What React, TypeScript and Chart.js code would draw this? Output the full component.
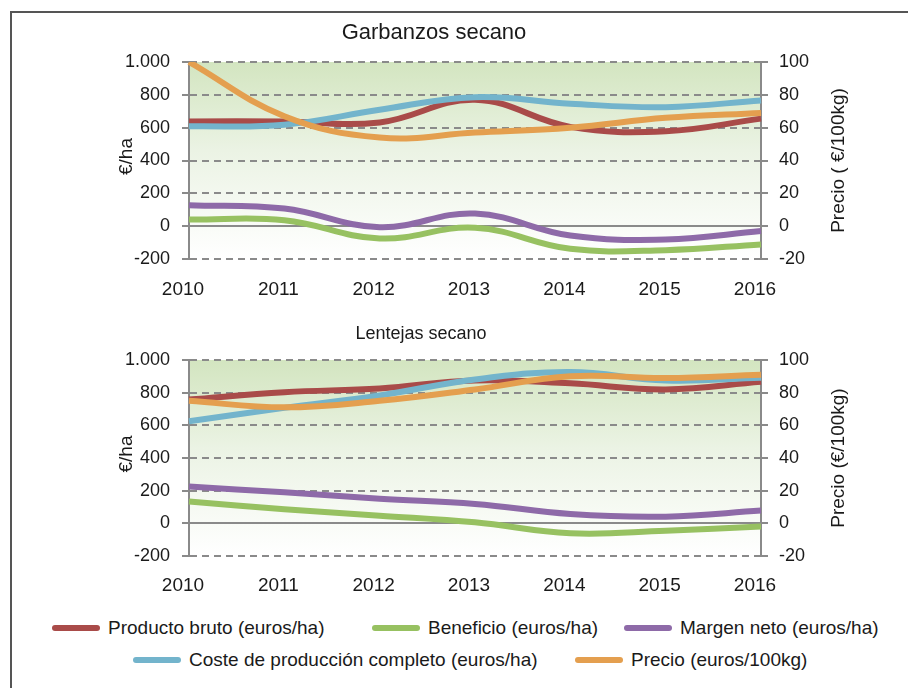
import React, { useEffect, useRef } from "react";
import { Chart, registerables } from "chart.js";

Chart.register(...registerables);

const years = ["2010", "2011", "2012", "2013", "2014", "2015", "2016"];

const garbProducto = [638, 638, 632, 770, 605, 578, 655];
const garbBeneficio = [40, 36, -75, -10, -138, -146, -111];
const garbMargen = [128, 107, -6, 77, -57, -81, -30];
const garbCoste = [608, 618, 709, 786, 746, 725, 766];
const garbPrecio = [100, 67, 54, 57, 60, 66, 69];

const lentProducto = [758, 803, 826, 875, 857, 820, 867];
const lentBeneficio = [133, 86, 47, 6, -61, -45, -20];
const lentMargen = [225, 190, 150, 119, 57, 41, 78];
const lentCoste = [625, 707, 783, 881, 926, 875, 891];
const lentPrecio = [75, 71, 75, 82, 90, 89, 91];

const seriesNames = [
  "Producto bruto (euros/ha)",
  "Beneficio (euros/ha)",
  "Margen neto (euros/ha)",
  "Coste de producción completo (euros/ha)",
  "Precio (euros/100kg)",
];
const seriesColors = ["#a94b49", "#97c161", "#8e6aa8", "#73b4cc", "#e49f4f"];

const FONT = '"Liberation Sans", Arial, sans-serif';
const GRID = "#8a8a8a";
const TEXT = "#1a1a1a";

type Cfg = {
  title: string;
  titleSize: number;
  titleDx: number;
  titleDy: number;
  rightTitle: string;
  producto: number[];
  beneficio: number[];
  margen: number[];
  coste: number[];
  precio: number[];
  padTop: number;
  xHeight: number;
  xPad: number;
};

function makeChart(canvas: HTMLCanvasElement, cfg: Cfg) {
  const decor = {
    id: "decor",
    beforeDraw(chart: any) {
      const { ctx, chartArea: a } = chart;
      const g = ctx.createLinearGradient(0, a.top, 0, a.bottom);
      g.addColorStop(0, "#d3e5c0");
      g.addColorStop(0.45, "#ebf3e4");
      g.addColorStop(1, "#ffffff");
      ctx.save();
      ctx.fillStyle = g;
      ctx.fillRect(a.left, a.top, a.right - a.left, a.bottom - a.top);
      ctx.restore();
    },
    afterDraw(chart: any) {
      const { ctx, chartArea: a } = chart;
      const cy = (a.top + a.bottom) / 2;
      ctx.save();
      ctx.fillStyle = TEXT;
      ctx.textAlign = "center";
      ctx.textBaseline = "middle";
      ctx.font = `${cfg.titleSize}px ${FONT}`;
      ctx.fillText(cfg.title, (a.left + a.right) / 2 + cfg.titleDx, a.top + cfg.titleDy);
      ctx.font = `19px ${FONT}`;
      ctx.save();
      ctx.translate(a.left - 62, cy - 4);
      ctx.rotate(-Math.PI / 2);
      ctx.fillText("€/ha", 0, 0);
      ctx.restore();
      ctx.save();
      ctx.translate(a.right + 78, cy);
      ctx.rotate(-Math.PI / 2);
      ctx.fillText(cfg.rightTitle, 0, 0);
      ctx.restore();
      ctx.restore();
    },
  };

  const ds = (label: string, data: number[], color: string, axis: string, order: number) => ({
    label,
    data,
    borderColor: color,
    backgroundColor: color,
    borderWidth: 6,
    pointRadius: 0,
    tension: 0.4,
    yAxisID: axis,
    order,
    fill: false,
  });

  return new Chart(canvas, {
    type: "line",
    data: {
      labels: years,
      datasets: [
        ds(seriesNames[0], cfg.producto, seriesColors[0], "y", 5),
        ds(seriesNames[1], cfg.beneficio, seriesColors[1], "y", 4),
        ds(seriesNames[2], cfg.margen, seriesColors[2], "y", 3),
        ds(seriesNames[3], cfg.coste, seriesColors[3], "y", 2),
        ds(seriesNames[4], cfg.precio, seriesColors[4], "y1", 1),
      ],
    },
    options: {
      animation: false,
      responsive: false,
      maintainAspectRatio: false,
      layout: { padding: { top: cfg.padTop, left: 0, right: 0, bottom: 0 } },
      plugins: { legend: { display: false }, title: { display: false }, tooltip: { enabled: false } },
      scales: {
        x: {
          type: "category",
          offset: false,
          grid: { display: false, drawTicks: false },
          border: { display: false },
          ticks: {
            color: TEXT,
            font: { family: FONT, size: 19 },
            padding: cfg.xPad,
            labelOffset: -6,
            maxRotation: 0,
            autoSkip: false,
          },
          afterFit(scale: any) {
            scale.height = cfg.xHeight;
          },
        },
        y: {
          position: "left",
          min: -200,
          max: 1000,
          grid: {
            color: GRID,
            lineWidth: 2,
            tickLength: 7,
            tickColor: GRID,
            tickWidth: 2,
          },
          border: {
            display: true,
            color: GRID,
            width: 2,
            dash: (ctx: any) => (ctx.tick && ctx.tick.value === 0 ? [] : [7, 5]),
          },
          ticks: {
            stepSize: 200,
            color: TEXT,
            padding: 12,
            font: { family: FONT, size: 18 },
            callback: (v: any) => (Number(v) === 1000 ? "1.000" : String(v)),
          },
          afterFit(scale: any) {
            scale.width = 189;
          },
        },
        y1: {
          position: "right",
          min: -20,
          max: 100,
          grid: {
            drawOnChartArea: false,
            color: GRID,
            lineWidth: 2,
            tickLength: 7,
            tickColor: GRID,
            tickWidth: 2,
          },
          border: { display: true, color: GRID, width: 2 },
          ticks: {
            stepSize: 20,
            color: TEXT,
            padding: 11,
            font: { family: FONT, size: 18 },
          },
          afterFit(scale: any) {
            scale.width = 147;
          },
        },
      },
    } as any,
    plugins: [decor],
  });
}

function LineChart({ cfg, top }: { cfg: Cfg; top: number }) {
  const ref = useRef<HTMLCanvasElement | null>(null);
  useEffect(() => {
    if (!ref.current) return;
    const c = makeChart(ref.current, cfg);
    return () => c.destroy();
  }, []);
  return (
    <canvas
      ref={ref}
      width={908}
      height={300}
      style={{ position: "absolute", left: 0, top, width: 908, height: 300 }}
    />
  );
}

const legendRows = [
  [
    { i: 0, left: 52 },
    { i: 1, left: 372 },
    { i: 2, left: 624 },
  ],
  [
    { i: 3, left: 133 },
    { i: 4, left: 575 },
  ],
];
const legendRowY = [628, 660];

export default function App() {
  const garb: Cfg = {
    title: "Garbanzos secano",
    titleSize: 22,
    titleDx: -41,
    titleDy: -29,
    rightTitle: "Precio ( €/100kg)",
    producto: garbProducto,
    beneficio: garbBeneficio,
    margen: garbMargen,
    coste: garbCoste,
    precio: garbPrecio,
    padTop: 62,
    xHeight: 41,
    xPad: 19,
  };
  const lent: Cfg = {
    title: "Lentejas secano",
    titleSize: 18,
    titleDx: -54,
    titleDy: -26,
    rightTitle: "Precio (€/100kg)",
    producto: lentProducto,
    beneficio: lentBeneficio,
    margen: lentMargen,
    coste: lentCoste,
    precio: lentPrecio,
    padTop: 60,
    xHeight: 44,
    xPad: 18,
  };
  return (
    <div style={{ position: "absolute", left: 0, top: 0, width: 908, height: 688, overflow: "hidden", background: "#fff" }}>
      <div
        style={{
          position: "absolute",
          left: 10,
          top: 11,
          width: 920,
          height: 700,
          borderLeft: "2px solid #555",
          borderTop: "2px solid #555",
        }}
      />
      <LineChart cfg={garb} top={0} />
      <LineChart cfg={lent} top={300} />
      {legendRows.map((row, r) =>
        row.map((it) => (
          <div
            key={seriesNames[it.i]}
            style={{
              position: "absolute",
              left: it.left,
              top: legendRowY[r] - 14,
              height: 28,
              display: "flex",
              alignItems: "center",
              whiteSpace: "nowrap",
              fontFamily: FONT,
              fontSize: 19,
              color: TEXT,
            }}
          >
            <span
              style={{
                display: "inline-block",
                width: 48,
                height: 6,
                borderRadius: 3,
                background: seriesColors[it.i],
                marginRight: 8,
              }}
            />
            <span>{seriesNames[it.i]}</span>
          </div>
        ))
      )}
    </div>
  );
}
